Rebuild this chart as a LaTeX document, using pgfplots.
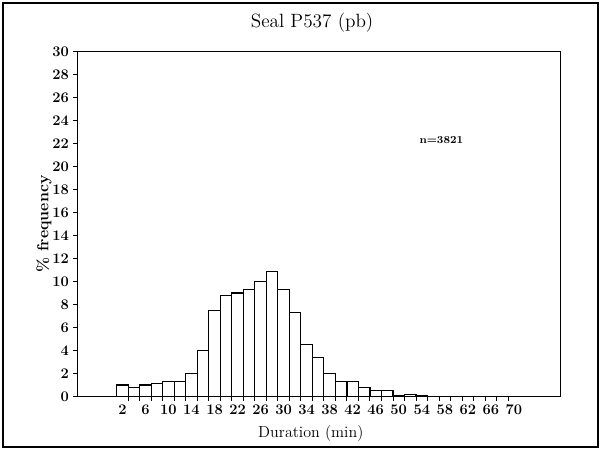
\documentclass[border=0pt]{standalone}
\usepackage{pgfplots}
\pgfplotsset{compat=1.18}
\begin{document}
\begin{tikzpicture}
\useasboundingbox (-58.125pt,-40.125pt) rectangle (393.375pt,297.375pt);
\draw[line width=0.8pt] (-55.875pt,-37.875pt) rectangle (390.375pt,295.125pt);
\begin{axis}[
  at={(0pt,0pt)}, anchor=south west,
  scale only axis,
  width=362.25pt, height=258.75pt,
  xmin=-5.8, xmax=78.1, ymin=0, ymax=30,
  axis line style={line width=0.8pt},
  tick align=outside,
  major tick length=3pt,
  xtick pos=bottom, ytick pos=left,
  xtick={3,5,...,69},
  xticklabels={},
  extra x ticks={2,6,10,14,18,22,26,30,34,38,42,46,50,54,58,62,66,70},
  extra x tick labels={2,6,10,14,18,22,26,30,34,38,42,46,50,54,58,62,66,70},
  extra x tick style={major tick length=0pt, tick style={draw=none}},
  ytick={0,2,...,30},
  tick style={line width=0.7pt, black},
  /pgf/number format/assume math mode=true,
  ticklabel style={font=\fontsize{11}{13}\selectfont\bfseries},
  xticklabel style={yshift=-2.5pt},
  every axis title shift=0pt,
  title={Seal P537 (pb)},
  title style={font=\Large, at={(axis description cs:0.4856,1.0825)}, anchor=center},
  xlabel={Duration (min)},
  xlabel style={font=\large, at={(axis description cs:0.483,-0.106)}, anchor=center},
  ylabel={\% frequency},
  ylabel style={font=\large\bfseries, at={(axis description cs:-0.0694,0.5)}, anchor=center},
  ybar, bar width=2,
]
\addplot[fill=white, draw=black, line width=0.9pt] coordinates {
(2,1.0) (4,0.8) (6,1.0) (8,1.1) (10,1.3) (12,1.3) (14,2.0) (16,4.0)
(18,7.5) (20,8.8) (22,9.0) (24,9.3) (26,10.0) (28,10.9) (30,9.3) (32,7.3)
(34,4.5) (36,3.4) (38,2.0) (40,1.3) (42,1.3) (44,0.8) (46,0.5) (48,0.5)
(50,0.1) (52,0.2) (54,0.1)
};
\node[font=\footnotesize\bfseries] at (axis cs:57.4,22.3) {n=3821};
\end{axis}
\end{tikzpicture}
\end{document}
